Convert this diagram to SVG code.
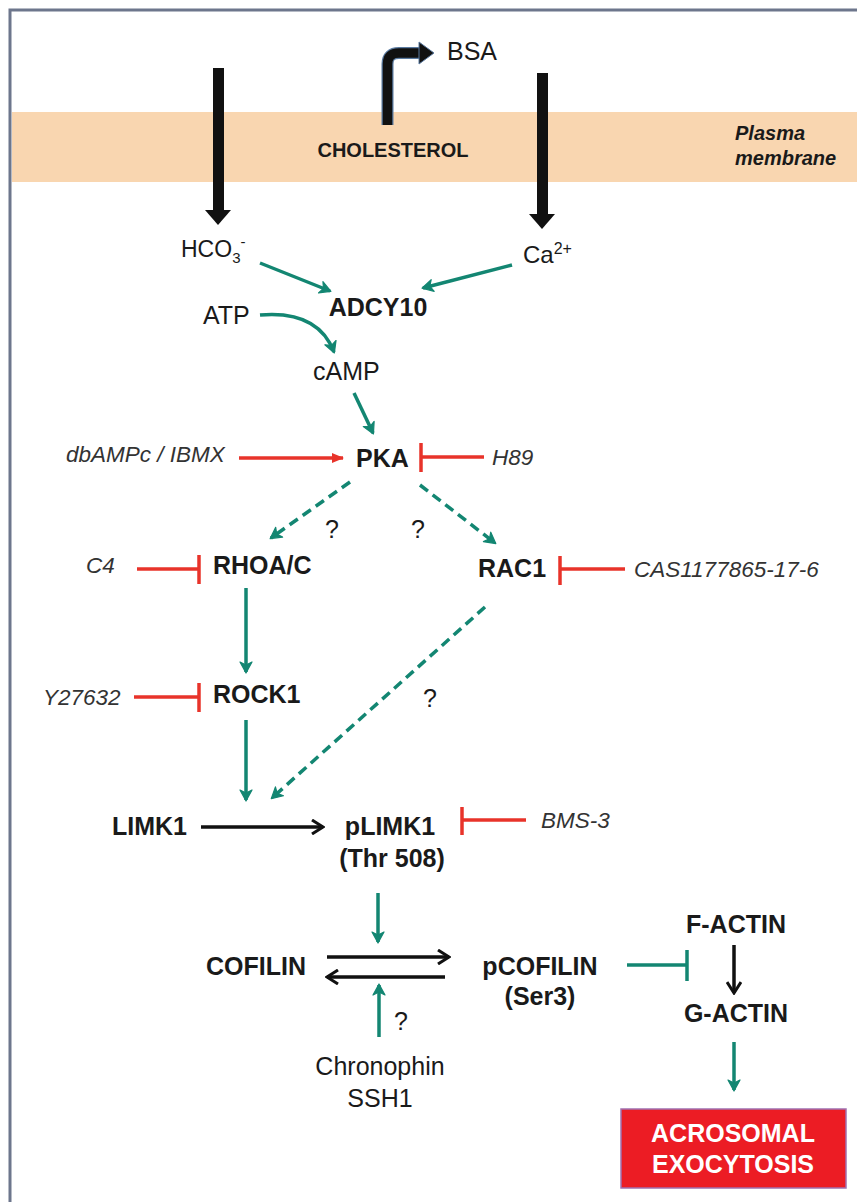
<svg xmlns="http://www.w3.org/2000/svg" width="857" height="1202" viewBox="0 0 857 1202">
<style>
text{font-family:"Liberation Sans",Arial,sans-serif;fill:#1a1a1a}
.b{font-weight:bold;font-size:25px}
.r{font-size:25px}
.i{font-style:italic;font-size:22.5px;fill:#333}
.m{text-anchor:middle}
.teal{stroke:#138672;stroke-width:3.5;fill:none}
.dash{stroke-dasharray:10 6}
.red{stroke:#e8332a;stroke-width:3.5;fill:none}
.blk{stroke:#111;stroke-width:3.5;fill:none}
</style>
<defs>
<marker id="ta" viewBox="0 0 14 14" refX="11" refY="7" markerWidth="14" markerHeight="14" markerUnits="userSpaceOnUse" orient="auto">
<path d="M1,1 L12,7 L1,13 L4,7 z" fill="#138672" stroke="#138672" stroke-width="1.2" stroke-linejoin="round"/>
</marker>
<marker id="ba" viewBox="0 0 14 16" refX="12" refY="8" markerWidth="14" markerHeight="16" markerUnits="userSpaceOnUse" orient="auto">
<path d="M1,1 L12,8 L1,15" fill="none" stroke="#111" stroke-width="3"/>
</marker>
<marker id="ra" viewBox="0 0 12 12" refX="11" refY="6" markerWidth="12" markerHeight="12" markerUnits="userSpaceOnUse" orient="auto">
<path d="M0,1 L12,6 L0,11 z" fill="#e8332a"/>
</marker>
</defs>
<rect x="0" y="0" width="857" height="1202" fill="#fff"/>
<path d="M10,1202 V10 H857" fill="none" stroke="#6d768c" stroke-width="3"/>
<g id="membrane">
<rect x="12" y="112" width="845" height="70" fill="#f9d6b0"/>
<text x="393" y="157" class="m" style="font-weight:bold;font-size:20px">CHOLESTEROL</text>
<text x="735" y="140" style="font-weight:bold;font-style:italic;font-size:20px">Plasma</text>
<text x="735" y="165" style="font-weight:bold;font-style:italic;font-size:20px">membrane</text>
</g>
<g id="membrane-arrows">
<rect x="213" y="68" width="11" height="144" fill="#111"/>
<polygon points="205,210 231,210 218,225" fill="#111"/>
<rect x="537" y="73" width="11" height="143" fill="#111"/>
<polygon points="529,214 555,214 542,229" fill="#111"/>
<path d="M387.5,125 V64 Q387.5,53 399,53 H421" fill="none" stroke="#5a7aa0" stroke-width="12"/>
<path d="M387.5,125 V64 Q387.5,53 399,53 H421" fill="none" stroke="#111" stroke-width="9.5"/>
<polygon points="419,42 434,53 419,64" fill="#111" stroke="#5a7aa0" stroke-width="1"/>
</g>
<g id="n-bsa"><text x="447" y="60" class="r">BSA</text></g>
<g id="n-hco3"><text x="181" y="257" class="r" style="font-size:23px">HCO<tspan font-size="15" dy="6">3</tspan><tspan font-size="15" dy="-16">-</tspan></text></g>
<g id="n-ca"><text x="523" y="263" class="r" style="font-size:24px">Ca<tspan font-size="16" dy="-9">2+</tspan></text></g>
<g id="n-adcy10"><text x="378" y="316" class="b m">ADCY10</text></g>
<g id="n-atp"><text x="203" y="324" class="r">ATP</text></g>
<g id="n-camp"><text x="313" y="380" class="r">cAMP</text></g>
<g id="n-dbampc"><text x="66" y="462" class="i">dbAMPc / IBMX</text></g>
<g id="n-pka"><text x="356" y="467" class="b">PKA</text></g>
<g id="n-h89"><text x="492" y="465" class="i">H89</text></g>
<g id="n-c4"><text x="86" y="573" class="i">C4</text></g>
<g id="n-rhoa"><text x="213" y="574" class="b">RHOA/C</text></g>
<g id="n-rac1"><text x="478" y="577" class="b">RAC1</text></g>
<g id="n-cas"><text x="634" y="577" class="i">CAS1177865-17-6</text></g>
<g id="n-y27632"><text x="43" y="705" class="i">Y27632</text></g>
<g id="n-rock1"><text x="213" y="703" class="b">ROCK1</text></g>
<g id="n-limk1"><text x="112" y="835" class="b">LIMK1</text></g>
<g id="n-plimk1"><text x="390" y="835" class="b m">pLIMK1</text><text x="392" y="867" class="b m">(Thr 508)</text></g>
<g id="n-bms3"><text x="541" y="828" class="i">BMS-3</text></g>
<g id="n-cofilin"><text x="206" y="975" class="b">COFILIN</text></g>
<g id="n-pcofilin"><text x="540" y="975" class="b m">pCOFILIN</text><text x="540" y="1005" class="b m">(Ser3)</text></g>
<g id="n-factin"><text x="736" y="933" class="b m">F-ACTIN</text></g>
<g id="n-gactin"><text x="736" y="1022" class="b m">G-ACTIN</text></g>
<g id="n-chronophin"><text x="380" y="1075" class="r m">Chronophin</text><text x="380" y="1107" class="r m">SSH1</text></g>
<g id="n-acrosomal">
<rect x="621" y="1109" width="225" height="79" fill="#ec1c24" stroke="#a070b0" stroke-width="1.5"/>
<text x="733" y="1142" class="b m" style="fill:#fff">ACROSOMAL</text>
<text x="733" y="1173" class="b m" style="fill:#fff">EXOCYTOSIS</text>
</g>
<g id="labels-q">
<text x="332" y="538" class="r m">?</text>
<text x="418" y="538" class="r m">?</text>
<text x="430" y="707" class="r m">?</text>
<text x="401" y="1030" class="r m">?</text>
</g>
<g id="connectors">
<line class="teal" x1="260" y1="263" x2="330" y2="291" marker-end="url(#ta)"/>
<line class="teal" x1="512" y1="265" x2="423" y2="288" marker-end="url(#ta)"/>
<path class="teal" d="M260,315 Q318,310 334,352" marker-end="url(#ta)"/>
<line class="teal" x1="354" y1="393" x2="373" y2="433" marker-end="url(#ta)"/>
<line class="teal dash" x1="350" y1="482" x2="271" y2="538" marker-end="url(#ta)"/>
<line class="teal dash" x1="420" y1="485" x2="495" y2="543" marker-end="url(#ta)"/>
<line class="teal" x1="246" y1="588" x2="246" y2="672" marker-end="url(#ta)"/>
<line class="teal" x1="246" y1="720" x2="246" y2="800" marker-end="url(#ta)"/>
<line class="teal dash" x1="485" y1="607" x2="272" y2="798" marker-end="url(#ta)"/>
<line class="teal" x1="378" y1="893" x2="378" y2="942" marker-end="url(#ta)"/>
<line class="teal" x1="379" y1="1037" x2="379" y2="985" marker-end="url(#ta)"/>
<line class="teal" x1="627" y1="965" x2="687" y2="965"/>
<line class="teal" x1="687" y1="950" x2="687" y2="981"/>
<line class="teal" x1="734" y1="1042" x2="734" y2="1090" marker-end="url(#ta)"/>
<line class="blk" x1="201" y1="827" x2="323" y2="827" marker-end="url(#ba)"/>
<line class="blk" x1="327" y1="957" x2="449" y2="957" marker-end="url(#ba)"/>
<line class="blk" x1="445" y1="977" x2="327" y2="977" marker-end="url(#ba)"/>
<line class="blk" x1="734" y1="945" x2="734" y2="993" marker-end="url(#ba)"/>
<line class="red" x1="239" y1="458" x2="343" y2="458" marker-end="url(#ra)"/>
<line class="red" x1="484" y1="457" x2="421" y2="457"/>
<line class="red" x1="421" y1="443" x2="421" y2="472"/>
<line class="red" x1="137" y1="569" x2="199" y2="569"/>
<line class="red" x1="199" y1="555" x2="199" y2="584"/>
<line class="red" x1="625" y1="569" x2="560" y2="569"/>
<line class="red" x1="560" y1="556" x2="560" y2="585"/>
<line class="red" x1="134" y1="697" x2="199" y2="697"/>
<line class="red" x1="199" y1="683" x2="199" y2="712"/>
<line class="red" x1="526" y1="820" x2="462" y2="820"/>
<line class="red" x1="462" y1="807" x2="462" y2="835"/>
</g>
</svg>
